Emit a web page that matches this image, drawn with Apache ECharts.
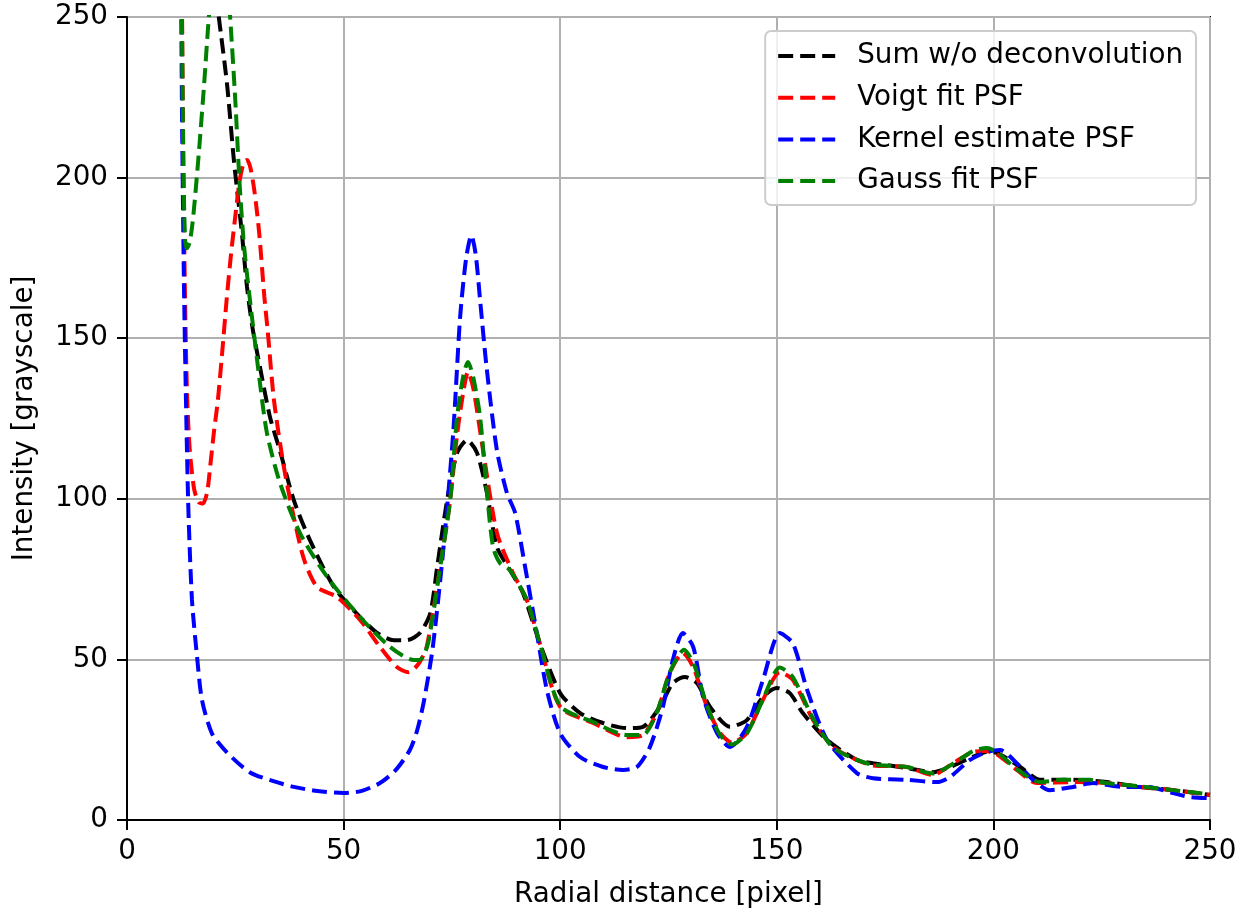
<!DOCTYPE html>
<html>
<head>
<meta charset="utf-8">
<script src="https://cdn.jsdelivr.net/npm/echarts@6/dist/echarts.min.js"></script>
<style>
  html, body { margin: 0; padding: 0; background: #ffffff; }
  #chart { width: 1240px; height: 909px; }
</style>
</head>
<body>
<div id="chart"></div>
<script>
// ---- data (x = radial distance [pixel], y = intensity) ----
const seriesNames = ['Sum w/o deconvolution', 'Voigt fit PSF', 'Kernel estimate PSF', 'Gauss fit PSF'];
const seriesColors = ['#000000', '#ff0000', '#0000ff', '#008000'];

const sumNoDeconv = [
  [12,400],[13,340],[15,305],[17,288],[19,274],[21,252],[23.1,229],[24.7,205],[26.5,183],[27.7,166],
  [29,153],[30.7,141],[33,125.5],[35.3,115],[38.5,99.6],[42.2,87.2],[47.8,72.5],[53.8,63.2],[58,58],
  [61.6,56],[64.6,56],[67.6,58.2],[70,64.4],[71.6,78.8],[73.9,99.6],[76.2,114.3],[78.5,118.3],
  [80.8,114.3],[83.1,101.8],[85.4,85],[88.4,77.8],[91.4,70.7],[95.3,55],[100,39.5],[104.6,33.3],
  [109.9,30.2],[115.4,28.6],[119.1,29],[123,35.2],[126,42.6],[128.8,44.5],[131.6,42.6],[134.6,35.2],
  [139.2,29],[143.1,31.1],[146.8,38.3],[150,41.1],[153,39.5],[156,33.3],[161.6,24.9],[168.5,18.7],
  [172.2,17.7],[180,16.2],[186,14.9],[190,16.5],[194.6,19.3],[198.5,21.2],[200.8,20.9],[206.2,16.5],
  [210.8,12.5],[218.4,12.5],[226.2,11.8],[233.8,10.3],[241.5,9.3],[250,7.8]
];

const voigtFit = [
  [12,400],[12.5,290],[13,205],[13.4,162],[13.9,131],[14.5,115],[15.5,103],[16.5,99],[17.5,98.5],
  [18.5,102],[19.2,110],[20,120],[21,131],[22,146],[23,162],[24,176],[25,188],[26,199],[27,205],
  [27.7,205.5],[28.5,203],[29.5,195],[30.5,183],[31.7,163],[32.5,152],[33.9,131],[36.2,110],
  [38.5,94.3],[40.9,81],[43.9,72.5],[48.5,69.4],[53.8,62.3],[58.4,53.9],[62.3,47.6],[65,46],
  [67.4,48.8],[69.2,54],[72.3,78.8],[74.6,99.6],[76.2,120],[77.6,133],[78.7,139.5],[80,134],
  [82.2,115],[85.4,89.4],[89.1,76.9],[92.3,68.5],[95.3,55],[100,35.2],[107.6,30.2],[115.4,25.8],
  [119.1,26.5],[122.3,33.3],[125.3,45.8],[128.3,52],[130.7,47.6],[133.9,35.2],[136.9,27.1],
  [139.7,24],[143.1,27.1],[146.8,37.4],[150.7,46],[153.7,43.6],[158.4,31.1],[163,22.7],[168.5,18.7],
  [172.2,17],[180,16.5],[186,14],[190.7,17.7],[195.3,21.2],[198,21.5],[200.8,20.5],[205.4,15.6],
  [210,11.5],[218.4,11.8],[226,11.5],[233.8,10.3],[241.5,9.3],[250,7.8]
];

const kernelEstimate = [
  [12,400],[12.3,300],[12.7,220],[13.2,162],[14.1,100],[15,68.5],[16.2,50.4],[17.3,37.4],[19.6,27],
  [23.1,21],[28.4,14.8],[34,12],[38.5,10.3],[44,9],[50,8.4],[54,9],[58.4,11.5],[62,15.5],[65.3,21.8],
  [67,28],[68.6,37.4],[70.6,53.9],[73,84],[75.3,120.5],[76.9,156.6],[78.3,175],[79.5,182],[80.5,176],
  [81.5,162],[83,141],[85.4,115],[87.7,101.8],[89.6,95.6],[91.9,78.8],[94.6,58.2],[97,40],[100,27],
  [104.6,19.6],[109.9,16.5],[114.5,15.6],[117.7,16.5],[120.7,22.7],[123.7,35.2],[126,49.8],
  [128.3,58.2],[130.7,53.9],[133,38.3],[136.2,27.1],[139.2,22.7],[143.1,29],[146.8,43.6],[150.7,58.2],
  [153.7,55],[157,40.5],[161.6,24.9],[168.5,14.6],[172.2,13],[180,12.5],[187,11.8],[190,13.4],
  [194.6,18.7],[198.5,21.2],[201.5,21.8],[205.4,17.7],[209.2,12.5],[213,9.3],[218.4,10.3],[223,11.5],
  [230,10.3],[235.5,10.3],[241.5,8.4],[245,7.2],[250,6.8]
];

const gaussFit = [
  [12,400],[12.5,280],[13,205],[13.4,181],[13.8,178],[14.5,180],[15.3,188],[16.6,208],[17.8,229],
  [18.9,250],[20,265],[21,272],[22,270],[23,262],[23.8,250],[25,224],[26,198],[27,179],[28.2,164],
  [30.7,136],[32.3,120.5],[35.3,105],[39.9,89.4],[46.2,75.7],[53.8,63.2],[60.7,53.9],[66.3,49.8],
  [67.8,50],[69.5,55],[72.3,78.8],[74.6,99.6],[76.2,125.5],[77.6,138],[78.7,142.6],[79.9,138],
  [81.5,125.5],[83.1,101.8],[84.5,85],[86.1,80],[88.4,77.8],[92.3,68.5],[95.3,55],[100,35.5],
  [107.6,30.5],[115.4,26.5],[119.1,26.5],[122.3,33.5],[125.3,46],[128.6,53],[131,48],[133.9,35.5],
  [136.9,26.5],[139.7,23.5],[143.1,27],[146.8,37.5],[150.7,47.5],[153.7,44.5],[158.4,31.5],[163,22.5],
  [168.5,18.7],[172.2,17.2],[180,16.5],[186,14.5],[190.7,17.5],[195.3,21.5],[198.5,22.4],[201,21],
  [205.4,15.8],[210.8,11.8],[216,12.5],[222.3,12.5],[226,11.5],[233.8,10.5],[241.5,9.3],[250,8]
];

const seriesData = [sumNoDeconv, voigtFit, kernelEstimate, gaussFit];
const xTicks = { min: 0, max: 250, step: 50 };
const yTicks = { min: 0, max: 250, step: 50 };
const xTitle = 'Radial distance [pixel]';
const yTitle = 'Intensity [grayscale]';

// ---- chart ----
const FONT = 'DejaVu Sans';
const FS = 27.8;
const chart = echarts.init(document.getElementById('chart'), null, { renderer: 'canvas' });

const axisCommon = {
  axisLine: { show: true, onZero: false, lineStyle: { color: '#000', width: 2 } },
  axisTick: { show: true, inside: false, length: 10, lineStyle: { color: '#000', width: 2 } },
  splitLine: { show: true, lineStyle: { color: '#b0b0b0', width: 2 } },
  nameTextStyle: { fontFamily: FONT, fontSize: FS, color: '#000' }
};

chart.setOption({
  animation: false,
  backgroundColor: '#ffffff',
  grid: {
    left: 127, right: 30, top: 17, bottom: 89,
    show: true, borderColor: '#000', borderWidth: 2,
    containLabel: false, outerBoundsMode: 'none'
  },
  legend: {
    orient: 'vertical',
    right: 44,
    top: 31,
    data: seriesNames,
    itemWidth: 57,
    itemHeight: 30,
    itemGap: 11.7,
    padding: [10, 13, 9, 11],
    backgroundColor: 'rgba(255,255,255,0.8)',
    borderColor: '#cccccc',
    borderWidth: 2,
    borderRadius: 6,
    lineStyle: { width: 4 },
    itemStyle: { opacity: 0, borderWidth: 0 },
    textStyle: { fontFamily: FONT, fontSize: FS, color: '#000', lineHeight: 30, padding: [0, 0, 0, 17] }
  },
  xAxis: Object.assign({}, axisCommon, {
    type: 'value',
    min: xTicks.min, max: xTicks.max, interval: xTicks.step,
    name: xTitle, nameLocation: 'middle', nameGap: 61,
    axisLabel: { fontFamily: FONT, fontSize: FS, color: '#000', margin: 18 }
  }),
  yAxis: Object.assign({}, axisCommon, {
    type: 'value',
    min: yTicks.min, max: yTicks.max, interval: yTicks.step,
    name: yTitle, nameLocation: 'middle', nameGap: 88, nameRotate: 90,
    axisLabel: { fontFamily: FONT, fontSize: FS, color: '#000', margin: 19 }
  }),
  series: seriesNames.map((name, i) => ({
    name: name,
    type: 'line',
    data: seriesData[i],
    showSymbol: false,
    symbol: 'none',
    smooth: 0.25,
    clip: true,
    color: seriesColors[i],
    lineStyle: { color: seriesColors[i], width: 4, type: [15, 7] },
    emphasis: { disabled: true },
    z: 2 + i
  }))
});
</script>
</body>
</html>
